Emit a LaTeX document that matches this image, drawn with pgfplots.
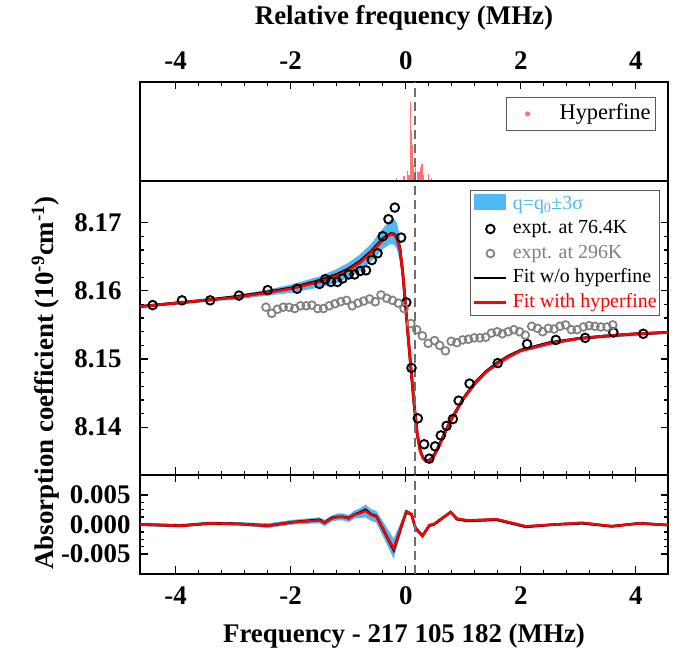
\documentclass[border=0pt]{standalone}
\usepackage{fontspec}
\setmainfont{Liberation Serif}
\usepackage{pgfplots}
\usepackage{pgfplotstable}
\pgfplotsset{compat=1.18}

\definecolor{bandblue}{RGB}{80,185,245}
\definecolor{hfred}{RGB}{255,115,115}
\definecolor{ggray}{RGB}{128,128,128}
\definecolor{dgray}{RGB}{110,110,110}
\newcommand\bigbold{\fontsize{27}{31}\selectfont\bfseries}

% hyperfine components
\pgfplotstableread{
x h
-0.16 0.04
-0.03 0.06
0.03 0.12
0.06 0.07
0.08 1.00
0.10 0.63
0.12 0.45
0.13 0.20
0.15 0.09
0.17 0.18
0.20 0.11
0.23 0.11
0.26 0.18
0.28 0.22
0.31 0.07
0.40 0.09
0.45 0.04
}\hyperfine

% expt. at 76.4 K
\pgfplotstableread{
x y
-4.40 8.1579
-3.89 8.1586
-3.40 8.1586
-2.90 8.1593
-2.40 8.1601
-1.89 8.1603
-1.50 8.1610
-1.40 8.1617
-1.30 8.1613
-1.19 8.1613
-1.10 8.1618
-0.99 8.1624
-0.89 8.1624
-0.79 8.1629
-0.69 8.1630
-0.59 8.1645
-0.49 8.1655
-0.40 8.1680
-0.30 8.1705
-0.19 8.1722
-0.08 8.1678
0.01 8.1583
0.10 8.1487
0.21 8.1413
0.32 8.1375
0.41 8.1354
0.51 8.1372
0.61 8.1388
0.71 8.1402
0.82 8.1412
0.92 8.1439
1.11 8.1464
1.60 8.1494
2.11 8.1522
2.61 8.1528
3.12 8.1531
3.61 8.1539
4.13 8.1537
}\coldT

% expt. at 296 K
\pgfplotstableread{
x y
-2.43 8.1576
-2.33 8.1567
-2.23 8.1573
-2.13 8.1576
-2.03 8.1576
-1.93 8.1574
-1.83 8.1578
-1.73 8.1578
-1.63 8.1579
-1.53 8.1574
-1.43 8.1574
-1.33 8.1578
-1.23 8.1581
-1.13 8.1584
-1.03 8.1586
-0.93 8.1578
-0.83 8.1582
-0.73 8.1585
-0.63 8.1588
-0.53 8.1584
-0.43 8.1594
-0.33 8.1589
-0.23 8.1586
-0.13 8.1582
-0.03 8.1574
0.09 8.1552
0.19 8.1543
0.29 8.1534
0.39 8.1523
0.50 8.1527
0.59 8.1520
0.69 8.1512
0.79 8.1526
0.89 8.1524
0.99 8.1528
1.09 8.1529
1.19 8.1531
1.29 8.1531
1.39 8.1532
1.49 8.1538
1.59 8.1540
1.68 8.1537
1.78 8.1540
1.88 8.1543
1.98 8.1540
2.08 8.1535
2.19 8.1548
2.29 8.1545
2.38 8.1540
2.48 8.1545
2.58 8.1544
2.68 8.1548
2.78 8.1550
2.88 8.1543
2.98 8.1543
3.09 8.1547
3.19 8.1549
3.29 8.1548
3.39 8.1547
3.50 8.1547
3.60 8.1550
}\roomT

% fits: with hyperfine (red), w/o hyperfine (black)
\pgfplotstableread{
x red black
-4.62 8.1577 8.1577
-4.0 8.1582 8.1582
-3.5 8.1586 8.1586
-3.0 8.1590 8.1591
-2.5 8.1596 8.1597
-2.0 8.1603 8.1604
-1.5 8.1613 8.1615
-1.2 8.1622 8.1624
-1.0 8.1630 8.1632
-0.8 8.1641 8.1643
-0.6 8.1656 8.1658
-0.5 8.1665 8.1667
-0.4 8.1674 8.1676
-0.3 8.1681 8.1682
-0.25 8.1683 8.1684
-0.2 8.1682 8.1683
-0.15 8.1676 8.1677
-0.1 8.1660 8.1661
-0.05 8.1625 8.1625
0.0 8.1575 8.1575
0.05 8.1525 8.1525
0.1 8.1477 8.1477
0.15 8.1430 8.1430
0.2 8.1390 8.1390
0.25 8.1366 8.1366
0.3 8.1355 8.1355
0.35 8.1350 8.1351
0.4 8.1350 8.1351
0.45 8.1353 8.1354
0.5 8.1359 8.1360
0.6 8.1376 8.1377
0.7 8.1395 8.1396
0.8 8.1412 8.1413
1.0 8.1441 8.1442
1.2 8.1464 8.1465
1.4 8.1481 8.1482
1.6 8.1494 8.1495
1.8 8.1504 8.1505
2.0 8.1512 8.1513
2.5 8.1523 8.1524
3.0 8.1530 8.1530
3.5 8.1534 8.1534
4.0 8.1537 8.1537
4.56 8.1539 8.1539
}\fits

% q = q0 +- 3 sigma band: upper edge left to right, then lower edge right to left
\pgfplotstableread{
x y
-4.62 8.1579
-4.0 8.1584
-3.0 8.1593
-2.5 8.1600
-2.0 8.1609
-1.5 8.1621
-1.2 8.1632
-1.0 8.1641
-0.8 8.1653
-0.6 8.1669
-0.5 8.1680
-0.4 8.1691
-0.3 8.1701
-0.25 8.1705
-0.2 8.1705
-0.15 8.1699
-0.1 8.1679
-0.05 8.1637
0.0 8.1582
0.05 8.1530
0.1 8.1480
0.15 8.1433
0.2 8.1393
0.3 8.1358
0.4 8.1352
0.6 8.1378
0.8 8.1415
1.0 8.1444
1.4 8.1484
2.0 8.1515
3.0 8.1532
4.56 8.1541
4.56 8.1537
3.0 8.1528
2.0 8.1510
1.4 8.1479
1.0 8.1439
0.8 8.1410
0.6 8.1374
0.4 8.1348
0.3 8.1353
0.2 8.1388
0.15 8.1428
0.1 8.1474
0.05 8.1520
0.0 8.1568
-0.05 8.1612
-0.1 8.1643
-0.15 8.1660
-0.2 8.1667
-0.25 8.1669
-0.3 8.1667
-0.4 8.1661
-0.5 8.1652
-0.6 8.1643
-0.8 8.1629
-1.0 8.1619
-1.2 8.1612
-1.5 8.1605
-2.0 8.1597
-2.5 8.1592
-3.0 8.1587
-4.0 8.1580
-4.62 8.1575
}\band

% residuals
\pgfplotstableread{
x red black
-4.62 0.0000 0.0000
-3.90 -0.0002 -0.0002
-3.41 0.0002 0.0002
-2.89 0.0001 0.0001
-2.40 -0.0002 -0.0002
-1.96 0.0004 0.0004
-1.50 0.0007 0.0008
-1.41 0.0003 0.0003
-1.29 0.0010 0.0011
-1.18 0.0013 0.0013
-1.09 0.0013 0.0013
-0.99 0.0010 0.0011
-0.89 0.0017 0.0017
-0.80 0.0019 0.0020
-0.70 0.0023 0.0025
-0.60 0.0016 0.0017
-0.51 0.0013 0.0014
-0.21 -0.0041 -0.0043
0.01 0.0022 0.0022
0.10 0.0018 0.0017
0.17 -0.0007 -0.0006
0.29 -0.0020 -0.0019
0.41 -0.0001 -0.0002
0.49 0.0001 0.0000
0.78 0.0021 0.0021
0.89 0.0010 0.0009
1.08 0.0007 0.0006
1.58 0.0009 0.0008
2.09 -0.0003 -0.0004
2.59 0.0000 0.0000
3.07 0.0003 0.0002
3.58 -0.0003 -0.0003
4.07 0.0002 0.0002
4.56 -0.0001 -0.0001
}\resid

% residual band: upper edge left to right, then lower edge right to left
\pgfplotstableread{
x y
-4.62 0.0003
-3.90 0.0001
-3.41 0.0005
-2.89 0.0004
-2.40 0.0002
-1.96 0.0008
-1.50 0.0012
-1.41 0.0008
-1.29 0.0015
-1.18 0.0019
-1.09 0.0019
-0.99 0.0016
-0.89 0.0024
-0.80 0.0027
-0.70 0.0034
-0.60 0.0026
-0.51 0.0023
-0.21 -0.0024
0.01 0.0025
0.10 0.0020
0.17 -0.0005
0.29 -0.0018
0.41 0.0001
0.49 0.0003
0.78 0.0023
0.89 0.0012
1.08 0.0009
1.58 0.0011
2.09 -0.0001
2.59 0.0002
3.07 0.0005
3.58 -0.0001
4.07 0.0004
4.56 0.0001
4.56 -0.0003
4.07 0.0000
3.58 -0.0005
3.07 0.0001
2.59 -0.0002
2.09 -0.0005
1.58 0.0007
1.08 0.0005
0.89 0.0008
0.78 0.0019
0.49 -0.0001
0.41 -0.0003
0.29 -0.0022
0.17 -0.0009
0.10 0.0015
0.01 0.0017
-0.21 -0.0058
-0.51 0.0003
-0.60 0.0006
-0.70 0.0012
-0.80 0.0011
-0.89 0.0010
-0.99 0.0004
-1.09 0.0007
-1.18 0.0007
-1.29 0.0005
-1.41 -0.0003
-1.50 0.0002
-1.96 0.0000
-2.40 -0.0006
-2.89 -0.0002
-3.41 -0.0001
-3.90 -0.0005
-4.62 -0.0003
}\residband

\pgfplotsset{
  base/.style={
    scale only axis, width=528bp,
    xmin=-4.62, xmax=4.56,
    axis line style={line width=1.6bp},
    every tick/.style={line width=1.3bp, black},
    major tick length=7.5bp, minor tick length=4bp,
    tick align=inside,
    xtick={-4,-2,0,2,4}, minor x tick num=4,
    /pgf/number format/assume math mode=true,
    tick label style={font=\bigbold},
    scaled ticks=false,
    clip=true,
  },
  dashline/.style={dgray, dash pattern=on 9bp off 5bp, line width=1.6bp, forget plot},
  lineleg/.style={legend image code/.code={\draw[##1, line width=2.8bp] (0bp,0bp) -- (32bp,0bp);}},
  markleg/.style={legend image code/.code={\path[draw=none,fill=none] (0bp,0bp) -- (32bp,0bp); \draw[##1] plot coordinates {(16bp,0bp)};}},
  bandleg/.style={legend image code/.code={\fill[bandblue, draw=none] (0bp,-5bp) rectangle (32bp,11bp);}},
  dotleg/.style={legend image code/.code={\path[draw=none,fill=none] (0bp,0bp) -- (35bp,0bp); \fill[hfred, draw=none] (16bp,0bp) circle (2.6bp);}},
}

\begin{document}
\begin{tikzpicture}[x=1bp,y=1bp]
\path (0,0) rectangle (682,655);

% ---------- top panel ----------
\begin{axis}[base, at={(140bp,474bp)}, anchor=south west, height=99bp,
  ymin=0, ymax=1.25, ytick=\empty,
  xtick pos=right, xticklabel pos=right,
  xticklabel style={yshift=9bp},
  legend style={at={(0.977,0.848)}, anchor=north east, draw=black!65, line width=0.8bp,
    font=\fontsize{22.5}{22.5}\selectfont, inner xsep=5bp, inner ysep=6bp, column sep=13bp,
    nodes={inner sep=0bp, text height=16bp, text depth=5bp}},
  legend cell align=left]
\addplot[ycomb, hfred, line width=1.4bp, mark=none, dotleg]
  table[x=x, y=h] {\hyperfine};
\addlegendentry{Hyperfine}
\addplot[dashline] coordinates {(0.16,0) (0.16,1.25)};
\end{axis}

% ---------- middle panel ----------
\begin{axis}[base, at={(140bp,180bp)}, anchor=south west, height=294bp,
  ymin=8.1330, ymax=8.1761,
  ytick={8.14,8.15,8.16,8.17}, minor y tick num=4,
  xtick pos=left, ytick pos=both, xticklabel=\empty,
  yticklabel={\pgfmathprintnumber[fixed,fixed zerofill,precision=2]{\tick}},
  yticklabel style={xshift=-15bp},
  legend style={at={(0.985,0.969)}, anchor=north east, draw=black!65, line width=0.8bp,
    font=\fontsize{20}{20}\selectfont, inner xsep=3bp, inner ysep=3bp, row sep=5.5bp, column sep=5bp,
    nodes={inner sep=0bp, text height=14bp, text depth=5bp}},
  legend cell align=left]
\addplot[fill=bandblue, draw=none, bandleg] table[x=x, y=y] {\band} -- cycle;
\addlegendentry{\textcolor{bandblue}{q=q\textsubscript{0}±3σ}}
\addplot[only marks, mark=o, mark size=4.3bp, line width=1.9bp, black, markleg]
  table[x=x, y=y] {\coldT};
\addlegendentry{expt. at 76.4K}
\addplot[only marks, mark=o, mark size=3.9bp, line width=1.7bp, ggray, markleg]
  table[x=x, y=y] {\roomT};
\addlegendentry{\textcolor{ggray}{expt. at 296K}}
\addplot[black, line width=2.8bp, mark=none, lineleg]
  table[x=x, y=black] {\fits};
\addlegendentry{Fit w/o hyperfine}
\addplot[red, line width=2.6bp, mark=none, lineleg]
  table[x=x, y=red] {\fits};
\addlegendentry{\textcolor{red}{Fit with hyperfine}}
\addplot[dashline] coordinates {(0.16,8.1330) (0.16,8.1761)};
\end{axis}

% ---------- bottom panel ----------
\begin{axis}[base, at={(140bp,81bp)}, anchor=south west, height=99bp,
  ymin=-0.0084, ymax=0.0084,
  ytick={-0.005,0,0.005}, minor y tick num=3,
  xtick pos=both, ytick pos=both,
  yticklabel={\pgfmathprintnumber[fixed,fixed zerofill,precision=3]{\tick}},
  yticklabel style={xshift=-6bp},
  xticklabel style={yshift=-9bp}]
\addplot[fill=bandblue, draw=none] table[x=x, y=y] {\residband} -- cycle;
\addplot[black, line width=2.6bp, mark=none] table[x=x, y=black] {\resid};
\addplot[red, line width=2.4bp, mark=none] table[x=x, y=red] {\resid};
\addplot[dashline] coordinates {(0.16,-0.0084) (0.16,0.0084)};
\end{axis}

% ---------- labels ----------
\node[font=\bigbold] at (404,637) {Relative frequency (MHz)};
\node[font=\bigbold] at (404,19) {Frequency - 217 105 182 (MHz)};
\node[font=\bigbold, rotate=90, anchor=base] at (53,272)
  {Absorption coefficient (10\textsuperscript{-9}cm\textsuperscript{-1})};
\end{tikzpicture}
\end{document}
